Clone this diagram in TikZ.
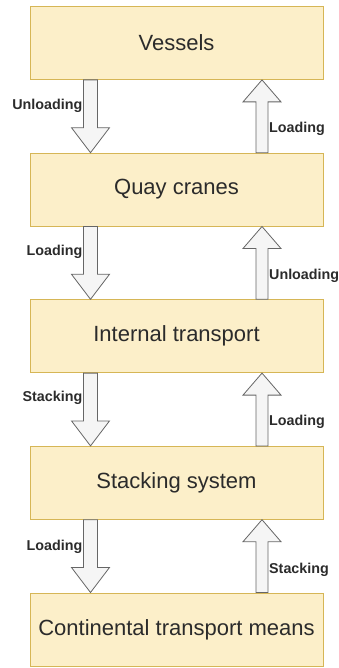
\documentclass[tikz,border=0pt]{standalone}
\usepackage{fontspec}
\setmainfont{Liberation Sans}
\usepackage{xcolor}
\usepackage{tikz}
\usetikzlibrary{positioning, calc}
\definecolor{stagefill}{HTML}{FCEFC9}
\definecolor{stageline}{HTML}{D6B656}
\definecolor{flowfill}{HTML}{F5F5F5}
\definecolor{flowline}{HTML}{666666}
\definecolor{inktext}{HTML}{2B2B2B}

% block arrows between two stages: #1 upper stage, #2 lower stage, #3 x offset
\newcommand{\flowdown}[3]{%
  \draw[blockarrow] let \p1=($(#1.south)+(#3,0)$), \p2=(#2.north) in
    (\x1-7pt,\y1) -- (\x1+7pt,\y1) -- (\x1+7pt,\y2+25pt)
    -- (\x1+19pt,\y2+25pt) -- (\x1,\y2) -- (\x1-19pt,\y2+25pt)
    -- (\x1-7pt,\y2+25pt) -- cycle;}
\newcommand{\flowup}[3]{%
  \draw[blockarrow] let \p1=($(#2.north)+(#3,0)$), \p2=(#1.south) in
    (\x1-6pt,\y1) -- (\x1+6pt,\y1) -- (\x1+6pt,\y2-22pt)
    -- (\x1+19pt,\y2-22pt) -- (\x1,\y2) -- (\x1-19pt,\y2-22pt)
    -- (\x1-6pt,\y2-22pt) -- cycle;}

\begin{document}
\begin{tikzpicture}[
    node distance=72.8pt,
    every node/.style={text=inktext},
    stage/.style={rectangle, draw=stageline, fill=stagefill,
                  minimum width=293pt, minimum height=73pt,
                  line width=0.8pt, font=\fontsize{22}{24}\selectfont},
    blockarrow/.style={draw=flowline, fill=flowfill, line width=0.8pt,
                       line join=miter},
    flowlabel/.style={font=\fontsize{14.3}{16}\selectfont\bfseries,
                      inner sep=1pt}
]

\useasboundingbox (0,0) rectangle (339pt,-668pt);

\node[stage] (V) at (176.5pt,-43pt) {Vessels};
\node[stage, below=of V] (Q) {Quay cranes};
\node[stage, below=of Q] (I) {Internal transport};
\node[stage, below=of I] (S) {Stacking system};
\node[stage, below=of S] (C) {Continental transport means};

\flowdown{V}{Q}{-86pt}
\flowup{V}{Q}{85.5pt}
\flowdown{Q}{I}{-86pt}
\flowup{Q}{I}{85.5pt}
\flowdown{I}{S}{-86pt}
\flowup{I}{S}{85.5pt}
\flowdown{S}{C}{-86pt}
\flowup{S}{C}{85.5pt}

% labels
\node[flowlabel, anchor=east] (VQd) at ($(V.south)+(-93pt,-26pt)$) {Unloading};
\node[flowlabel, anchor=west] (VQu) at ($(Q.north)+(91.5pt,24pt)$) {Loading};
\node[flowlabel, anchor=east] (QId) at ($(Q.south)+(-93pt,-25pt)$) {Loading};
\node[flowlabel, anchor=west] (QIu) at ($(I.north)+(91.5pt,23pt)$) {Unloading};
\node[flowlabel, anchor=east] (ISd) at ($(I.south)+(-93pt,-25pt)$) {Stacking};
\node[flowlabel, anchor=west] (ISu) at ($(S.north)+(91.5pt,24pt)$) {Loading};
\node[flowlabel, anchor=east] (SCd) at ($(S.south)+(-93pt,-27pt)$) {Loading};
\node[flowlabel, anchor=west] (SCu) at ($(C.north)+(91.5pt,23pt)$) {Stacking};

\end{tikzpicture}
\end{document}
